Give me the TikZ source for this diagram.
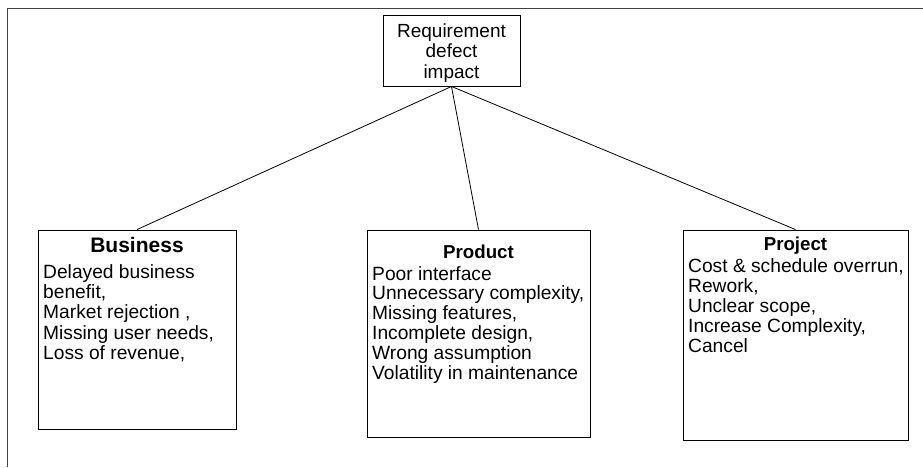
\documentclass[tikz,border=0pt]{standalone}
\usepackage{fontspec}
\setmainfont{Liberation Sans}
\begin{document}
\begin{tikzpicture}[x=1pt,y=-1pt,
  box/.style={draw=black, line width=0.9pt, rectangle, inner sep=0pt},
  body/.style={inner sep=0pt, anchor=base west, font=\fontsize{19.2}{20}\selectfont},
  ctext/.style={inner sep=0pt, anchor=base, font=\fontsize{19}{20}\selectfont},
  ttl/.style={inner sep=0pt, anchor=base, font=\fontsize{18.7}{20}\selectfont\bfseries},
  bigttl/.style={inner sep=0pt, anchor=base, font=\fontsize{21}{22}\selectfont\bfseries},
  conn/.style={draw=black, line width=0.8pt},
  frame/.style={draw=black!75, line width=0.9pt}]
\useasboundingbox (0,0) rectangle (923,467);
% outer frame
\coordinate (fr1) at (923,8);
\coordinate (fr2) at (7,8);
\coordinate (fr3) at (7,467);
\draw[frame] (fr1) -- (fr2) -- (fr3);
% boxes
\node[box, minimum width=137pt, minimum height=71pt] (top) at (451.5,50.5) {};
\node[box, minimum width=198pt, minimum height=199pt] (biz) at (137,329.5) {};
\node[box, minimum width=223pt, minimum height=207pt] (prod) at (478.5,333.5) {};
\node[box, minimum width=225pt, minimum height=210pt] (proj) at (795.5,335) {};
% connectors
\draw[conn] (top.south) -- (biz.north);
\draw[conn] (top.south) -- (prod.north);
\draw[conn] (top.south) -- (proj.north);
% top text
\node[ctext] (t1) at (451.5,37) {Requirement};
\node[ctext] (t2) at (451.5,57.5) {defect};
\node[ctext] (t3) at (451.5,78) {impact};
% business
\node[bigttl] (bt) at (137,252) {Business};
\foreach \t [count=\i] in {{Delayed business}, {benefit,}, {Market rejection ,}, {Missing user needs,}, {Loss of revenue,}}
  \node[body] (b\i) at (43,{278+20.4*(\i-1)}) {\t};
% product
\node[ttl] (pt) at (478.5,258) {Product};
\foreach \t [count=\i] in {{Poor interface}, {Unnecessary complexity,}, {Missing features,}, {Incomplete design,}, {Wrong assumption}, {Volatility in maintenance}}
  \node[body] (p\i) at (372,{280+19.8*(\i-1)}) {\t};
% project
\node[ttl] (jt) at (795.5,250) {Project};
\foreach \t [count=\i] in {{Cost \& schedule overrun,}, {Rework,}, {Unclear scope,}, {Increase Complexity,}, {Cancel}}
  \node[body] (j\i) at (688,{272+20.2*(\i-1)}) {\t};
\end{tikzpicture}
\end{document}
